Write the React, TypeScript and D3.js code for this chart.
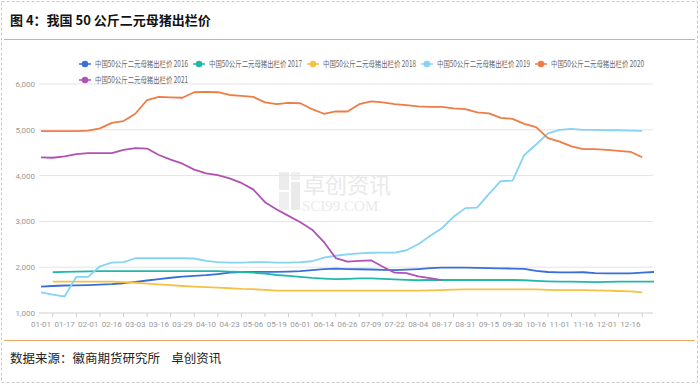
import React from 'react';
import * as d3 from 'd3';

// tick labels shown on the category axis (every other weekly point)
const dateLabels = [
  '01-01', '01-17', '02-01', '02-16', '03-03', '03-16', '03-29', '04-10', '04-23',
  '05-06', '05-19', '06-01', '06-14', '06-26', '07-09', '07-22', '08-04', '08-17',
  '08-31', '09-15', '09-30', '10-16', '11-01', '11-16', '12-01', '12-16',
];
const yTicks = [1000, 2000, 3000, 4000, 5000, 6000];

const years = ['2016', '2017', '2018', '2019', '2020', '2021'];
const colors = ['#3a6ed8', '#22b8a8', '#f6c143', '#86d3f3', '#ee7c45', '#b052b2'];

const s2016 = [
  1575, 1590, 1600, 1605, 1610, 1620, 1630, 1650, 1680, 1710, 1740, 1770, 1795, 1810,
  1825, 1850, 1880, 1895, 1900, 1900, 1900, 1905, 1915, 1935, 1960, 1970, 1960, 1955,
  1950, 1940, 1935, 1945, 1960, 1980, 1990, 1990, 1990, 1985, 1980, 1975, 1970, 1965,
  1920, 1895, 1885, 1885, 1890, 1870, 1865, 1865, 1865, 1880, 1895,
];
const s2017 = [
  null, 1890, 1900, 1905, 1910, 1915, 1915, 1915, 1915, 1915, 1915, 1915, 1915, 1915,
  1915, 1915, 1905, 1895, 1880, 1860, 1830, 1810, 1790, 1765, 1750, 1740, 1745, 1755,
  1755, 1745, 1735, 1725, 1715, 1720, 1720, 1720, 1720, 1720, 1720, 1720, 1720, 1715,
  1700, 1690, 1685, 1685, 1680, 1675, 1680, 1685, 1685, 1685, 1685,
];
const s2018 = [
  null, 1685, 1685, 1685, 1685, 1685, 1685, 1675, 1660, 1640, 1625, 1610, 1590, 1575,
  1565, 1555, 1540, 1525, 1520, 1505, 1490, 1490, 1490, 1490, 1488, 1488, 1488, 1488,
  1488, 1488, 1490, 1490, 1490, 1495, 1500, 1510, 1515, 1515, 1515, 1515, 1515, 1515,
  1515, 1505, 1500, 1500, 1500, 1495, 1490, 1480, 1470, 1450,
];
const s2019 = [
  1450, 1400, 1360, 1790, 1790, 2020, 2100, 2110, 2195, 2195, 2195, 2195, 2195, 2190,
  2140, 2110, 2100, 2100, 2110, 2110, 2100, 2100, 2110, 2130, 2210, 2250, 2280, 2300,
  2315, 2320, 2320, 2370, 2500, 2680, 2850, 3100, 3290, 3300, 3600, 3880, 3890, 4450,
  4680, 4920, 5000, 5020, 5000, 5000, 4990, 4990, 4980, 4975,
];
const s2020 = [
  4970, 4970, 4970, 4970, 4980, 5030, 5150, 5190, 5350, 5650, 5720, 5710, 5700, 5820,
  5830, 5820, 5760, 5740, 5720, 5600, 5560, 5590, 5580, 5450, 5350, 5400, 5400, 5560,
  5620, 5600, 5560, 5540, 5510, 5500, 5500, 5470, 5450, 5380, 5360, 5260, 5240, 5130,
  5060, 4820, 4740, 4640, 4580, 4580, 4560, 4540, 4520, 4400,
];
const s2021 = [
  4400, 4390, 4420, 4470, 4490, 4490, 4490, 4560, 4600, 4590, 4450, 4350, 4260, 4130,
  4050, 4010, 3940, 3840, 3700, 3420, 3260, 3120, 2980, 2820, 2550, 2200, 2120, 2140,
  2150, 2010, 1880, 1870, 1800, 1760, 1720,
];
const seriesValues = [s2016, s2017, s2018, s2019, s2020, s2021];

const legendName = '中国50公斤二元母猪出栏价';
const title = '图 4：我国 50 公斤二元母猪出栏价';
const source = '数据来源：徽商期货研究所    卓创资讯';

const W = 700;
const H = 386;

const App = () => {
  const x = d3.scaleLinear().domain([0, 52]).range([41, 654]);
  const y = d3.scaleLinear().domain([1000, 6000]).range([313, 84]);
  const line = d3
    .line<number | null>()
    .defined((d) => d != null)
    .x((_, i) => x(i))
    .y((d) => y(d as number))
    .curve(d3.curveLinear);

  const legendPos = [
    [85, 64], [199, 64], [313, 64], [427, 64], [541, 64], [85, 80],
  ];

  return (
    <svg
      width={W}
      height={H}
      style={{ position: 'absolute', left: 0, top: 0, background: '#fff' }}
      fontFamily="'Noto Sans CJK SC', sans-serif"
    >
      <rect x={1.5} y={1.5} width={W - 4} height={H - 5} fill="#fff" stroke="#c8c8c8" strokeDasharray="3,2" />
      <text x={10} y={25} fontSize={13} fontWeight="bold" fill="#111">{title}</text>
      <line x1={4} x2={W - 5} y1={39.5} y2={39.5} stroke="#f0a868" strokeWidth={1.2} />
      <line x1={4} x2={W - 5} y1={340.5} y2={340.5} stroke="#f0a868" strokeWidth={1.2} />
      <text x={10} y={363} fontSize={12.5} fill="#222" style={{ whiteSpace: 'pre' }}>{source}</text>

      {/* watermark */}
      <g opacity={0.55}>
        <rect x={279} y={172} width={10} height={18} fill="#ddd" />
        <rect x={291} y={172} width={9} height={8} fill="#e4e4e4" />
        <rect x={279} y={192} width={10} height={18} fill="#e2e2e2" />
        <rect x={291} y={182} width={9} height={28} fill="#dadada" />
        <text x={303} y={193} fontSize={22} fill="#d8d8d8">卓创资讯</text>
        <text x={302} y={211} fontSize={15} fill="#d8d8d8" fontFamily="'Liberation Serif', serif">SCI99.COM</text>
      </g>

      {/* grid + y axis */}
      {yTicks.map((t) => (
        <g key={t}>
          <line x1={39} x2={653} y1={y(t)} y2={y(t)} stroke={t === 1000 ? '#cfcfcf' : '#e4e4e4'} strokeWidth={1} />
          <text x={35} y={y(t) + 3} fontSize={8} fill="#9a9a9a" textAnchor="end" fontFamily="Roboto, sans-serif">
            {d3.format(',')(t)}
          </text>
        </g>
      ))}

      {/* x axis ticks and labels */}
      {d3.range(1, 53, 2).map((i) => (
        <line key={i} x1={x(i)} x2={x(i)} y1={313} y2={317} stroke="#cfcfcf" />
      ))}
      {dateLabels.map((lab, k) => (
        <text key={lab} x={x(k * 2)} y={327} fontSize={8} fill="#9a9a9a" textAnchor="middle" fontFamily="Roboto, sans-serif">
          {lab}
        </text>
      ))}

      {/* series */}
      {seriesValues.map((vals, si) => (
        <path key={years[si]} d={line(vals) || ''} fill="none" stroke={colors[si]} strokeWidth={1.8} strokeLinejoin="round" />
      ))}

      {/* legend */}
      {years.map((yr, i) => {
        const [lx, ly] = legendPos[i];
        return (
          <g key={yr} transform={`translate(${lx},${ly})`}>
            <line x1={-6} x2={6} y1={0} y2={0} stroke={colors[i]} strokeWidth={1.5} />
            <circle cx={0} cy={0} r={3.3} fill={colors[i]} />
            <text x={10} y={3} fontSize={8.5} fill="#666" textLength={93} lengthAdjust="spacingAndGlyphs">
              {`${legendName} ${yr}`}
            </text>
          </g>
        );
      })}
    </svg>
  );
};

export default App;
